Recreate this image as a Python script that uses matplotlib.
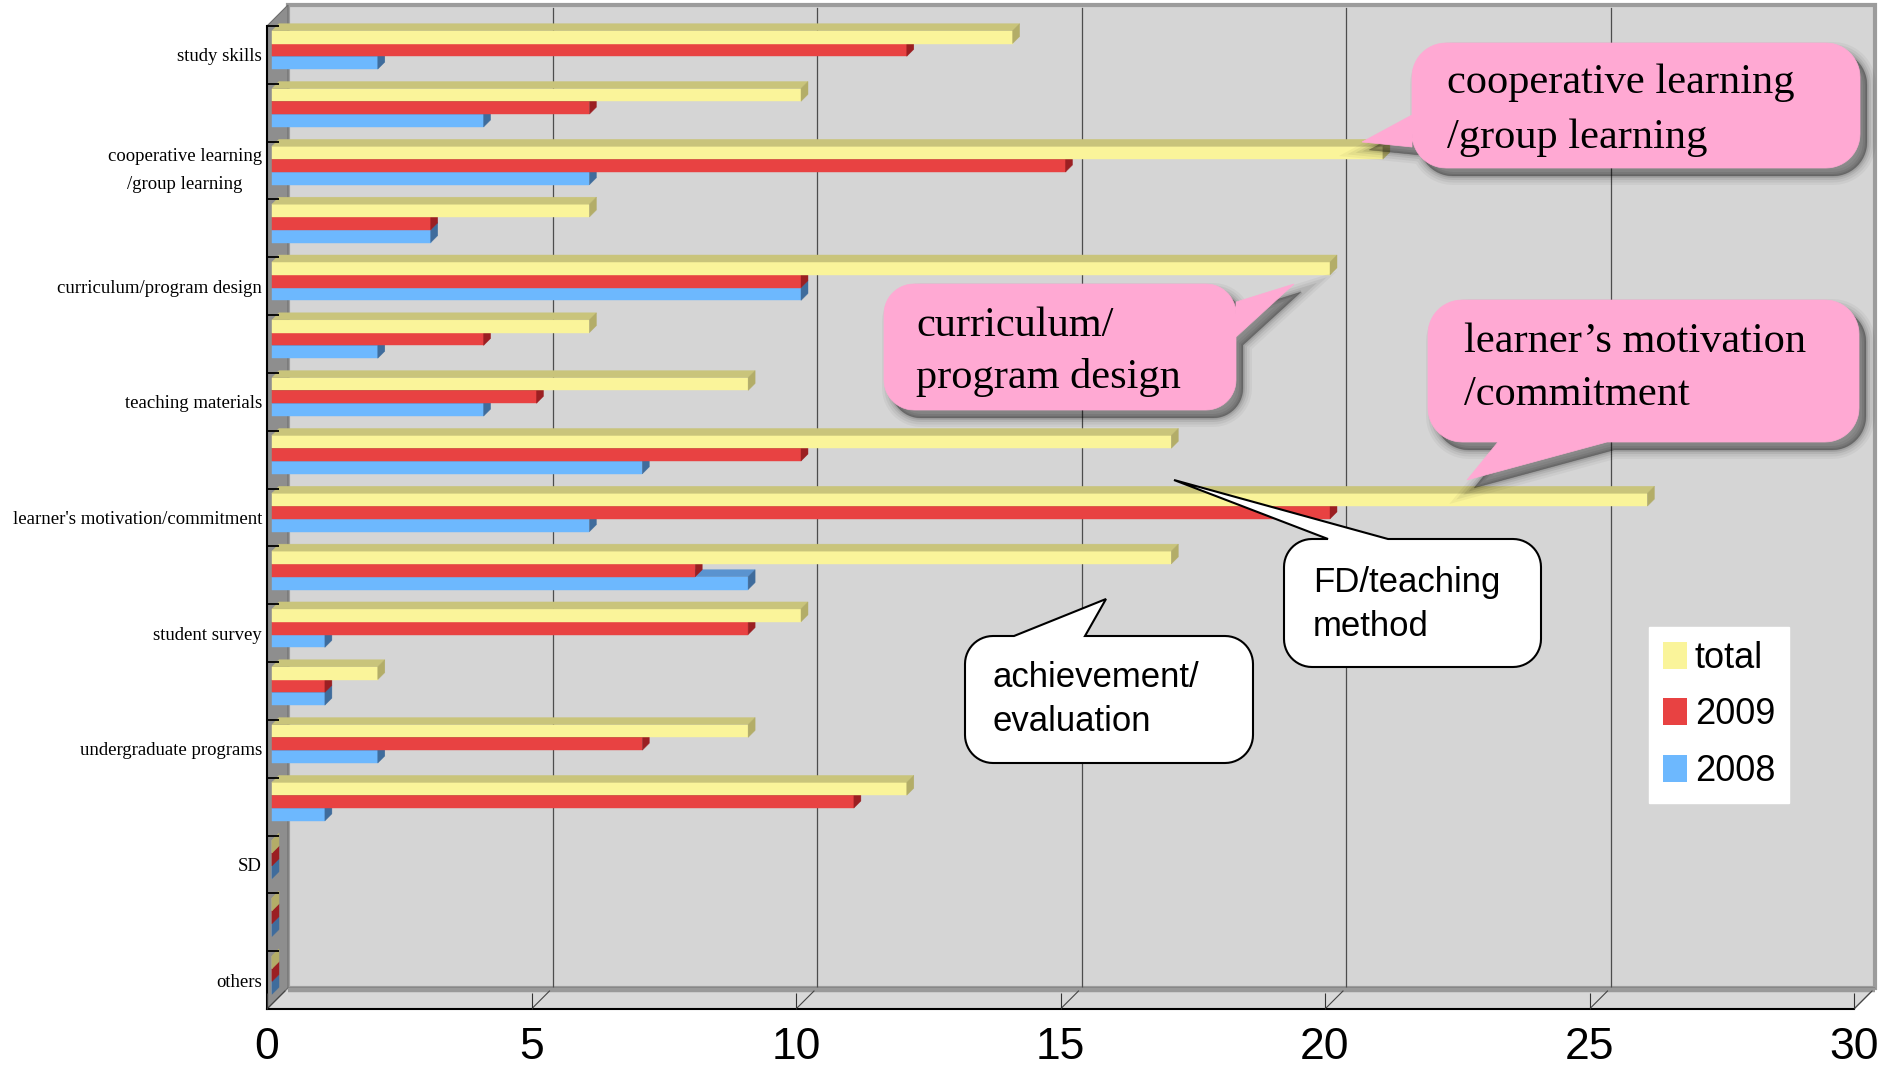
import numpy as np
import matplotlib
matplotlib.use("Agg")
import matplotlib.pyplot as plt
from matplotlib.patches import Polygon, PathPatch, Patch
from matplotlib.path import Path
from matplotlib.transforms import Affine2D, ScaledTranslation
from matplotlib.font_manager import FontProperties

# ---------------- data ----------------
tick_labels = ["study skills", "", "cooperative learning\n/group learning", "",
               "curriculum/program design", "", "teaching materials", "",
               "learner's motivation/commitment", "", "student survey", "",
               "undergraduate programs", "", "SD", "", "others"]
total = [14, 10, 21, 6, 20, 6, 9, 17, 26, 17, 10, 2, 9, 12, 0, 0, 0]
y2009 = [12, 6, 15, 3, 10, 4, 5, 10, 20, 8, 9, 1, 7, 11, 0, 0, 0]
y2008 = [2, 4, 6, 3, 10, 2, 4, 7, 6, 9, 1, 1, 2, 1, 0, 0, 0]
series_names = ["total", "2009", "2008"]
x_ticks = [0, 5, 10, 15, 20, 25, 30]
x_max = 30

# ---------------- fonts ----------------
serif = ["Liberation Serif", "DejaVu Serif"]
sans = ["Liberation Sans", "DejaVu Sans"]

# ---------------- figure / axes ----------------
W, H, DPI = 1880, 1067, 100
fig = plt.figure(figsize=(W / DPI, H / DPI), dpi=DPI, facecolor="white")
L, R, T, B = 267, 1854, 26, 1009          # front plane in pixels
ax = fig.add_axes([L / W, 1 - B / H, (R - L) / W, (B - T) / H])
n = len(total)
ax.set_xlim(0, x_max)
ax.set_ylim(n - 0.5, -0.5)
ax.patch.set_visible(False)

ppx = (R - L) / x_max
ppy = (B - T) / n
WALL, D1, D2 = 21, 5, 12
bar_h = 12.8 / ppy


def P(v, y, d):
    return (v + d / ppx, y - d / ppy)


top_y, bot_y = -0.5, n - 0.5
# back wall
ax.add_patch(Polygon([P(0, top_y, WALL), P(x_max, top_y, WALL), P(x_max, bot_y, WALL), P(0, bot_y, WALL)],
                     closed=True, fc="#d5d5d5", ec="#9c9c9c", lw=3, zorder=0.5, clip_on=False))
# gridlines on back wall
for v in x_ticks[1:-1]:
    a, b = P(v, top_y, WALL), P(v, bot_y, WALL)
    ax.plot([a[0], b[0]], [a[1] + 3 / ppy, b[1]], color="#4d4d4d", lw=0.9, zorder=0.6, clip_on=False)
# left wall
ax.add_patch(Polygon([P(0, top_y, 0), P(0, top_y, WALL), P(0, bot_y, WALL), P(0, bot_y, 0)],
                     closed=True, fc="#8e8e8e", ec="#6e6e6e", lw=0.8, zorder=0.7, clip_on=False))
# floor
ax.add_patch(Polygon([P(0, bot_y, 0), P(x_max, bot_y, 0), P(x_max, bot_y, WALL), P(0, bot_y, WALL)],
                     closed=True, fc="#d9d9d9", ec="#6e6e6e", lw=0.8, zorder=0.7, clip_on=False))
a, b = P(0, bot_y, WALL), P(x_max, bot_y, WALL)
ax.plot([a[0], b[0]], [a[1] + 1.5 / ppy, b[1] + 1.5 / ppy], color="#9a9a9a", lw=3.2, zorder=0.8,
        solid_capstyle="butt", clip_on=False)
for v in x_ticks:
    a, b = P(v, bot_y, 0), P(v, bot_y, WALL - 3)
    ax.plot([a[0], b[0]], [a[1], b[1]], color="#444444", lw=0.8, zorder=0.9, clip_on=False)

# ---------------- bars ----------------
series = [  # drawn bottom bar first
    (y2008, +1, "#6db8fe", "#5a93cf", "#3f6c9c"),
    (y2009, 0, "#e84242", "#b52a2a", "#9b1f22"),
    (total, -1, "#faf49a", "#c9c47b", "#b3ad68"),
]
front_tr = ax.transData + ScaledTranslation(D1 / DPI, D1 / DPI, fig.dpi_scale_trans)
yc_all = np.arange(n)
for vals, k, c_front, c_top, c_side in series:
    yc = yc_all + k * bar_h
    ax.barh(yc, vals, height=bar_h, color=c_front, edgecolor=c_front, linewidth=0.3,
            transform=front_tr, zorder=3, clip_on=False)
    for v, y in zip(vals, yc):
        yt, yb = y - bar_h / 2, y + bar_h / 2
        ax.add_patch(Polygon([P(0, yt, D1), P(v, yt, D1), P(v, yt, D2), P(0, yt, D2)], closed=True,
                             fc=c_top, ec=c_top, lw=0.3, zorder=3, clip_on=False))
        ax.add_patch(Polygon([P(v, yt, D1), P(v, yt, D2), P(v, yb, D2), P(v, yb, D1)], closed=True,
                             fc=c_side, ec=c_side, lw=0.3, zorder=3, clip_on=False))

ax.set_xlim(0, x_max)
ax.set_ylim(n - 0.5, -0.5)

# ---------------- axes / ticks ----------------
for s in ["top", "right"]:
    ax.spines[s].set_visible(False)
for s in ["left", "bottom"]:
    ax.spines[s].set_color("black")
    ax.spines[s].set_linewidth(1.5)
    ax.spines[s].set_zorder(4)
ax.xaxis.set_zorder(4)
ax.yaxis.set_zorder(4)

ax.set_xticks(x_ticks)
ax.set_xticklabels([str(t) for t in x_ticks], fontfamily=sans, fontsize=32)
ax.tick_params(axis="x", direction="in", length=11.5, width=0.8, color="#333333", pad=13)

ax.set_yticks(range(n))
ax.set_yticklabels(tick_labels, fontfamily=serif, fontsize=13.5)
ax.set_yticks(np.arange(-0.5, n - 1, 1), minor=True)
ax.tick_params(axis="y", which="major", length=0, pad=3.6)
ax.tick_params(axis="y", which="minor", direction="in", length=8.6, width=1.3, color="black")
for lbl in ax.get_yticklabels():
    if "\n" in lbl.get_text():
        lbl.set_multialignment("center")
        lbl.set_linespacing(1.9)
        lbl.set_verticalalignment("center")

# ---------------- legend ----------------
handles = [Patch(fc=series[2][2], ec="none"), Patch(fc=series[1][2], ec="none"), Patch(fc=series[0][2], ec="none")]
leg = ax.legend(handles, series_names, loc="upper left",
                bbox_to_anchor=(1649 / W, 1 - 627 / H), bbox_transform=fig.transFigure,
                frameon=True, fancybox=False, edgecolor="white", facecolor="white", framealpha=1,
                borderpad=0.38, handlelength=0.665, handleheight=0.775, handletextpad=0.22,
                labelspacing=0.6, borderaxespad=0,
                prop=FontProperties(family=sans, size=26))
leg.set_zorder(6)

# ---------------- callouts (pixel coordinates, y down) ----------------
T_px = Affine2D().scale(1 / DPI, -1 / DPI).translate(0, H / DPI) + fig.dpi_scale_trans


def callout_path(x0, y0, x1, y1, r, side, base, tip, dx=0, dy=0):
    pts = []

    def arc(cx, cy, a0, a1):
        for t in np.radians(np.linspace(a0, a1, 14)):
            pts.append((cx + r * np.cos(t), cy + r * np.sin(t)))

    pts.append((x0 + r, y0))
    if side == "top":
        pts += [(base[0], y0), tip, (base[1], y0)]
    pts.append((x1 - r, y0))
    arc(x1 - r, y0 + r, -90, 0)
    if side == "right":
        pts += [(x1, base[0]), tip, (x1, base[1])]
    arc(x1 - r, y1 - r, 0, 90)
    if side == "bottom":
        pts += [(base[1], y1), tip, (base[0], y1)]
    arc(x0 + r, y1 - r, 90, 180)
    if side == "left":
        pts += [(x0, base[1]), tip, (x0, base[0])]
    arc(x0 + r, y0 + r, 180, 270)
    pts = [(px + dx, py + dy) for px, py in pts]
    pts.append(pts[0])
    codes = [Path.MOVETO] + [Path.LINETO] * (len(pts) - 2) + [Path.CLOSEPOLY]
    return Path(pts, codes)


pink_callouts = [
    ((1412, 43, 1860, 168), 34, "left", (115, 147), (1362, 142),
     [("cooperative learning", 1447, 93), ("/group learning", 1447, 148)]),
    ((884, 284, 1236, 410), 30, "right", (302, 337), (1294, 284),
     [("curriculum/", 916, 336), ("program design", 916, 388)]),
    ((1428, 300, 1859, 442), 34, "bottom", (1498, 1607), (1467, 480),
     [("learner\u2019s motivation", 1464, 352), ("/commitment", 1464, 405)]),
]
white_callouts = [
    ((1284, 539, 1541, 667), 28, "top", (1328, 1388), (1174, 480),
     [("FD/teaching", 1313, 592), ("method", 1313, 636)]),
    ((965, 636, 1253, 763), 28, "top", (1014, 1085), (1106, 599),
     [("achievement/", 993, 687), ("evaluation", 993, 731)]),
]

for box, r, side, base, tip, lines in pink_callouts:
    for lw, al in [(18, 0.04), (13, 0.05), (8, 0.07), (4, 0.09), (1, 0.12)]:
        p = callout_path(*box, r, side, base, tip, dx=7, dy=8)
        fig.add_artist(PathPatch(p, fc=(0, 0, 0, al), ec=(0, 0, 0, al), lw=lw * 0.72,
                                 transform=T_px, zorder=10))
    fig.add_artist(PathPatch(callout_path(*box, r, side, base, tip), fc="#ffa9d3", ec="#ffa9d3",
                             lw=0.5, transform=T_px, zorder=11))
    for s, x, y in lines:
        fig.text(x, y, s, transform=T_px, fontfamily=serif, fontsize=30.5, va="baseline",
                 ha="left", color="black", zorder=12)

for box, r, side, base, tip, lines in white_callouts:
    fig.add_artist(PathPatch(callout_path(*box, r, side, base, tip), fc="white", ec="black",
                             lw=1.5, transform=T_px, zorder=11))
    for s, x, y in lines:
        fig.text(x, y, s, transform=T_px, fontfamily=sans, fontsize=25, va="baseline",
                 ha="left", color="black", zorder=12)

fig.savefig("out.png", dpi=DPI, facecolor="white")
